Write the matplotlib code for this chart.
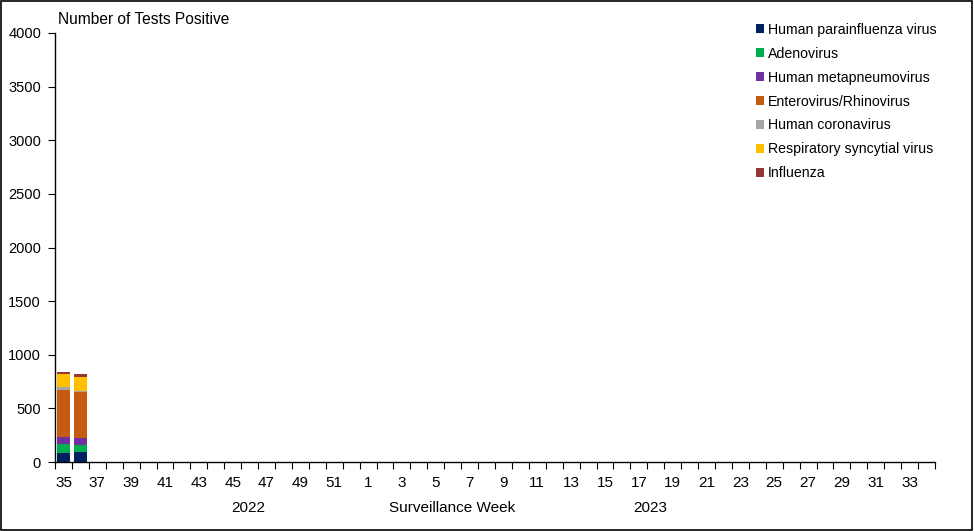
import numpy as np
import matplotlib
matplotlib.use('Agg')
import matplotlib.pyplot as plt
from matplotlib.patches import Rectangle

plt.rcParams['font.family'] = ['Liberation Sans', 'DejaVu Sans']

# Surveillance weeks: 35-52 of 2022, then 1-34 of 2023
weeks = list(range(35, 53)) + list(range(1, 35))
tick_labels = [str(w) if i % 2 == 0 else '' for i, w in enumerate(weeks)]

# Only the first two weeks have data so far
series_names = ['Human parainfluenza virus', 'Adenovirus', 'Human metapneumovirus',
                'Enterovirus/Rhinovirus', 'Human coronavirus',
                'Respiratory syncytial virus', 'Influenza']
parainfluenza = [85, 93]
adenovirus = [85, 65]
metapneumovirus = [60, 66]
entero_rhino = [440, 431]
coronavirus = [25, 7]
rsv = [125, 130]
influenza = [18, 28]

colors = ['#002060', '#00B050', '#7030A0', '#C55A11', '#A6A6A6', '#FFC000', '#953735']

fig = plt.figure(figsize=(9.74, 5.31), dpi=100)
ax = fig.add_axes([55 / 974, 69 / 531, 880 / 974, 429 / 531])

# black frame around the whole chart
fig.patches.append(Rectangle((0.001, 0.002), 0.997, 0.996, transform=fig.transFigure,
                             fill=False, edgecolor='black', linewidth=1.2))

all_series = [parainfluenza, adenovirus, metapneumovirus, entero_rhino,
              coronavirus, rsv, influenza]
x = np.arange(len(parainfluenza))
bottom = np.zeros(len(x))
for name, vals, c in zip(series_names, all_series, colors):
    ax.bar(x, vals, width=0.78, bottom=bottom, color=c, label=name)
    bottom += np.array(vals)

ax.set_xlim(-0.5, len(weeks) - 0.5)
ax.set_ylim(0, 4000)
ax.set_yticks(np.arange(0, 4001, 500))
ax.tick_params(axis='y', labelsize=10.5, length=5, direction='out', pad=5)

# tick marks at category boundaries, labels at centres
ax.set_xticks(np.arange(-0.5, len(weeks)), minor=False)
ax.set_xticklabels([])
ax.set_xticks(np.arange(len(weeks)), minor=True)
ax.set_xticklabels(tick_labels, minor=True, fontsize=11)
ax.tick_params(axis='x', which='major', length=5, direction='out')
ax.tick_params(axis='x', which='minor', length=0, pad=10)

for s in ['top', 'right']:
    ax.spines[s].set_visible(False)
ax.spines['left'].set_linewidth(1.0)
ax.spines['bottom'].set_linewidth(1.0)

fig.text(58 / 974, 1 - 20 / 531, 'Number of Tests Positive', fontsize=11.2,
         ha='left', va='center')
fig.text(248 / 974, 1 - 508 / 531, '2022', fontsize=11, ha='center', va='center')
fig.text(452 / 974, 1 - 508 / 531, 'Surveillance Week', fontsize=11, ha='center', va='center')
fig.text(650 / 974, 1 - 508 / 531, '2023', fontsize=11, ha='center', va='center')

leg = ax.legend(loc='upper left', bbox_to_anchor=(743 / 974, 1 - 10 / 531),
                bbox_transform=fig.transFigure, frameon=False, fontsize=10.2,
                handlelength=0.55, handleheight=0.55, handletextpad=0.3,
                labelspacing=0.7)

fig.savefig('out.png', dpi=100)
